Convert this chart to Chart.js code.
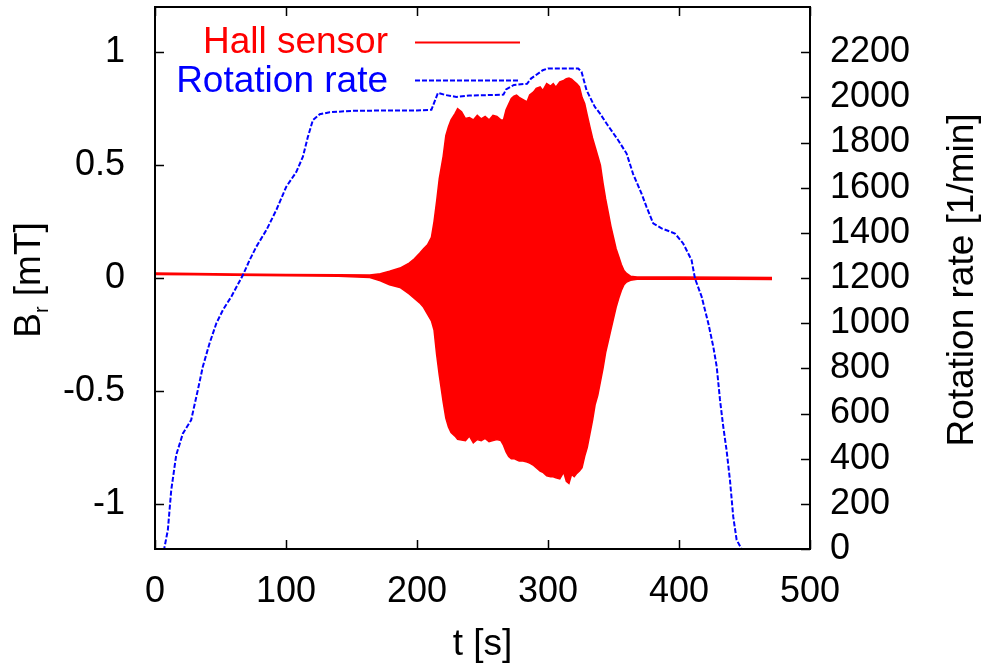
<!DOCTYPE html>
<html><head><meta charset="utf-8">
<script src="https://cdn.jsdelivr.net/npm/chart.js@4.4.0/dist/chart.umd.min.js"></script>
<style>html,body{margin:0;padding:0;background:#fff;}</style>
</head><body>
<canvas id="c" width="986" height="668"></canvas>
<script>
// ---- data ----
const T_HALL = [0,30,60,100,140,164,172,179,187,194,198,202,205,208,211,213,215,217,220,222,224,226,229,231,234,237,240,243,246,249,252,255,258,261,264,266,268,270,272,274,276,278,281,284,286,289,291,294,296,299,302,304,306,309,312,314,316,318,320,322,324,326,328,330,332,334,336,338,340,342,344,346,348,350,352,354,356,358,360,363,368,400,440,471];
const HALL_UPPER = [0.022,0.02,0.018,0.016,0.014,0.013,0.019,0.03,0.044,0.066,0.085,0.11,0.13,0.147,0.18,0.25,0.34,0.44,0.54,0.63,0.67,0.70,0.728,0.75,0.736,0.706,0.71,0.70,0.72,0.705,0.715,0.70,0.72,0.715,0.70,0.70,0.745,0.77,0.795,0.805,0.81,0.80,0.79,0.78,0.81,0.824,0.84,0.846,0.83,0.861,0.85,0.861,0.845,0.868,0.875,0.883,0.885,0.88,0.87,0.86,0.846,0.80,0.773,0.72,0.669,0.62,0.58,0.54,0.50,0.42,0.35,0.29,0.23,0.18,0.13,0.095,0.06,0.033,0.02,0.008,0.004,0.004,0.003,0.002];
const HALL_LOWER = [0.016,0.014,0.012,0.01,0.008,0.002,-0.012,-0.03,-0.042,-0.07,-0.09,-0.11,-0.13,-0.16,-0.19,-0.23,-0.34,-0.43,-0.55,-0.62,-0.66,-0.684,-0.70,-0.714,-0.717,-0.72,-0.70,-0.73,-0.715,-0.72,-0.71,-0.725,-0.72,-0.715,-0.72,-0.74,-0.77,-0.79,-0.80,-0.80,-0.805,-0.81,-0.81,-0.815,-0.82,-0.83,-0.84,-0.855,-0.86,-0.876,-0.88,-0.88,-0.885,-0.89,-0.86,-0.90,-0.91,-0.87,-0.88,-0.865,-0.855,-0.84,-0.79,-0.75,-0.69,-0.63,-0.56,-0.52,-0.46,-0.40,-0.33,-0.28,-0.23,-0.18,-0.13,-0.09,-0.055,-0.03,-0.018,-0.01,-0.006,-0.006,-0.006,-0.007];
const T_ROT = [0,7,9.8,12.4,16.2,21.3,27.6,32.7,36.5,41.6,46.8,51.8,58.2,67.1,72.2,77.3,85,92.6,100.2,107.9,112.9,116.7,120.5,125.7,133.3,150,180,200,211,214,216,222,230,240,255,266,268,274,284,287,296,300,323,325.6,329.4,335.7,339.6,344.7,353.6,360,365,371.4,375.2,380.3,386.7,396.9,403.2,409.6,412.2,417.3,422.4,426.2,428.8,431.3,433.8,436.3,438.9,441.4,444,447.8,470];
const ROT_RATE = [0,0,84,261,416,512,571,704,807,910,999,1058,1117,1213,1279,1338,1412,1501,1604,1670,1737,1825,1899,1925,1934,1940,1942,1942,1945,1990,2020,2010,2002,2008,2010,2012,2035,2055,2060,2083,2120,2128,2128,2113,2032,1958,1929,1884,1810,1751,1660,1574,1515,1442,1420,1397,1353,1279,1198,1117,999,895,807,660,541,438,305,143,40,0,0];
const X_TICKS = [0,100,200,300,400,500];
const Y_TICKS = [-1,-0.5,0,0.5,1];
const Y_TICK_LABELS = ['-1','-0.5','0','0.5','1'];
const Y2_TICKS = [0,200,400,600,800,1000,1200,1400,1600,1800,2000,2200];
const SERIES_NAMES = ['Hall sensor','Rotation rate'];
const X_TITLE = 't [s]';
const Y2_TITLE = 'Rotation rate [1/min]';

const FONT = '"Liberation Sans", Arial, sans-serif';
const RED = '#ff0000', BLUE = '#0000ff';

const pts = (xs, ys) => xs.map((x, i) => ({x, y: ys[i]}));
const noPad = s => { s.paddingTop = 0; s.paddingBottom = 0; s.paddingLeft = 0; s.paddingRight = 0; };

const framePlugin = {
  id: 'frame',
  afterDatasetsDraw(chart) {
    const {ctx, chartArea: a, scales} = chart;
    ctx.save();
    ctx.strokeStyle = '#000';
    ctx.lineWidth = 1.5;
    const L = 9;
    ctx.beginPath();
    X_TICKS.forEach(v => {
      const px = Math.round(scales.x.getPixelForValue(v)) + 0.5;
      ctx.moveTo(px, a.bottom); ctx.lineTo(px, a.bottom - L);
      ctx.moveTo(px, a.top); ctx.lineTo(px, a.top + L);
    });
    Y_TICKS.forEach(v => {
      const py = Math.round(scales.y.getPixelForValue(v)) + 0.5;
      ctx.moveTo(a.left, py); ctx.lineTo(a.left + L, py);
    });
    Y2_TICKS.forEach(v => {
      const py = Math.round(scales.y2.getPixelForValue(v)) + 0.5;
      ctx.moveTo(a.right, py); ctx.lineTo(a.right - L, py);
    });
    ctx.stroke();
    ctx.lineWidth = 2;
    ctx.strokeRect(a.left, a.top, a.right - a.left, a.bottom - a.top);
    ctx.restore();
  },
  afterDraw(chart) {
    const {ctx, chartArea: a} = chart;
    ctx.save();
    // legend
    ctx.font = '37px ' + FONT;
    ctx.textAlign = 'right';
    ctx.textBaseline = 'middle';
    ctx.fillStyle = RED;
    ctx.fillText(SERIES_NAMES[0], 388, 43);
    ctx.fillStyle = BLUE;
    ctx.fillText(SERIES_NAMES[1], 388, 82);
    ctx.lineWidth = 2;
    ctx.strokeStyle = RED;
    ctx.beginPath(); ctx.moveTo(415, 42.5); ctx.lineTo(520, 42.5); ctx.stroke();
    ctx.strokeStyle = BLUE;
    ctx.setLineDash([5, 2]);
    ctx.beginPath(); ctx.moveTo(415, 80.5); ctx.lineTo(520, 80.5); ctx.stroke();
    ctx.setLineDash([]);
    // axis titles
    ctx.fillStyle = '#000';
    ctx.textAlign = 'center';
    ctx.fillText(X_TITLE, (a.left + a.right) / 2, 645);
    ctx.save();
    ctx.translate(963, 280);
    ctx.rotate(-Math.PI / 2);
    ctx.fillText(Y2_TITLE, 0, 0);
    ctx.restore();
    // B_r [mT]
    ctx.save();
    ctx.translate(30, 280);
    ctx.rotate(-Math.PI / 2);
    ctx.textAlign = 'left';
    const big = '37px ' + FONT, small = '20px ' + FONT;
    ctx.font = big; const wB = ctx.measureText('B').width;
    ctx.font = small; const wr = ctx.measureText('r').width;
    ctx.font = big; const wRest = ctx.measureText(' [mT]').width;
    const total = wB + wr + wRest;
    let x0 = -total / 2;
    ctx.font = big; ctx.fillText('B', x0, 0);
    ctx.font = small; ctx.fillText('r', x0 + wB, 12);
    ctx.font = big; ctx.fillText(' [mT]', x0 + wB + wr, 0);
    ctx.restore();
    ctx.restore();
  }
};

new Chart(document.getElementById('c'), {
  type: 'line',
  data: {
    datasets: [
      {
        label: SERIES_NAMES[1], data: pts(T_ROT, ROT_RATE), yAxisID: 'y2',
        borderColor: BLUE, borderWidth: 2, borderDash: [5, 2], pointRadius: 0,
        fill: false, tension: 0, order: 0
      },
      {
        label: SERIES_NAMES[0] + ' upper', data: pts(T_HALL, HALL_UPPER), yAxisID: 'y',
        borderColor: RED, borderWidth: 1.5, pointRadius: 0, tension: 0,
        backgroundColor: RED, fill: '+1', order: 1
      },
      {
        label: SERIES_NAMES[0] + ' lower', data: pts(T_HALL, HALL_LOWER), yAxisID: 'y',
        borderColor: RED, borderWidth: 1.5, pointRadius: 0, tension: 0,
        fill: false, order: 2
      }
    ]
  },
  options: {
    responsive: false,
    animation: false,
    devicePixelRatio: 1,
    layout: {padding: {top: 7, left: 0, right: 0, bottom: 0}},
    plugins: {legend: {display: false}, tooltip: {enabled: false}},
    scales: {
      x: {
        type: 'linear', min: 0, max: 500,
        afterBuildTicks: s => { s.ticks = X_TICKS.map(v => ({value: v})); },
        afterFit: s => { s.height = 119; noPad(s); },
        grid: {display: false}, border: {display: false},
        ticks: {font: {family: FONT, size: 36}, color: '#000', padding: 13, maxRotation: 0, autoSkip: false,
                callback: v => String(v)}
      },
      y: {
        position: 'left', min: -1.2, max: 1.2,
        afterBuildTicks: s => { s.ticks = Y_TICKS.map(v => ({value: v})); },
        afterFit: s => { s.width = 155; noPad(s); },
        grid: {display: false}, border: {display: false},
        ticks: {font: {family: FONT, size: 36}, color: '#000', padding: 22, autoSkip: false,
                callback: v => Y_TICK_LABELS[Y_TICKS.indexOf(v)]}
      },
      y2: {
        position: 'right', min: 0, max: 2400,
        afterBuildTicks: s => { s.ticks = Y2_TICKS.map(v => ({value: v})); },
        afterFit: s => { s.width = 176; noPad(s); },
        grid: {display: false}, border: {display: false},
        ticks: {font: {family: FONT, size: 36}, color: '#000', padding: 12, autoSkip: false,
                callback: v => String(v)}
      }
    }
  },
  plugins: [framePlugin]
});
</script>
</body></html>
